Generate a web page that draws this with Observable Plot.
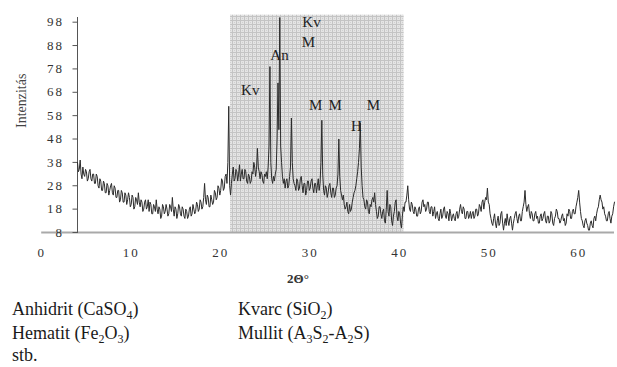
<!DOCTYPE html>
<html>
<head>
<meta charset="utf-8">
<script src="https://cdn.jsdelivr.net/npm/d3@7"></script>
<script src="https://cdn.jsdelivr.net/npm/@observablehq/plot@0.6"></script>
<style>
  html, body { margin: 0; padding: 0; background: #fff; }
  #chart svg { display: block; }
  #chart g[aria-label="y-axis tick label"] text,
  #chart g[aria-label="x-axis tick label"] text { letter-spacing: 2px; }
  #legend { position: relative; width: 617px; height: 71px; font-family: "Liberation Serif", serif; font-size: 18px; color: #1a1a1a; }
  #legend div { position: absolute; line-height: 18px; white-space: nowrap; }
  #legend span.s { font-size: 12px; vertical-align: -4px; line-height: 0; }
</style>
</head>
<body>
<div id="chart"></div>
<div id="legend">
  <div style="left:12px; top:4px;">Anhidrit (CaSO<span class="s">4</span>)</div>
  <div style="left:238px; top:4px;">Kvarc (SiO<span class="s">2</span>)</div>
  <div style="left:12px; top:28px;">Hematit (Fe<span class="s">2</span>O<span class="s">3</span>)</div>
  <div style="left:238px; top:28px;">Mullit (A<span class="s">3</span>S<span class="s">2</span>-A<span class="s">2</span>S)</div>
  <div style="left:12px; top:50px;">stb.</div>
</div>
<script>
// 2Θ sampling grid (degrees)
const twoThetaStart = 4;
const twoThetaStep = 0.1;
// Intensity, one value per 0.1° from 4° to 64°
const intensity = [
  38, 34, 35, 39, 33, 31, 36, 33, 32, 35, 34, 30, 31, 34, 35, 31, 30, 33, 33, 29,
  29, 33, 32, 28, 27, 31, 30, 26, 26, 30, 29, 25, 25, 29, 28, 24, 26, 28, 29, 25,
  24, 28, 27, 23, 23, 26, 26, 21, 22, 26, 25, 21, 21, 25, 24, 20, 22, 25, 23, 19,
  20, 24, 23, 18, 19, 23, 22, 20, 25, 21, 19, 22, 21, 17, 18, 21, 22, 18, 19, 22,
  17, 21, 20, 16, 16, 20, 19, 17, 22, 18, 16, 19, 18, 14, 15, 20, 19, 16, 17, 20,
  18, 15, 16, 20, 19, 17, 23, 18, 15, 19, 18, 14, 16, 20, 19, 16, 15, 19, 18, 15,
  14, 18, 17, 14, 15, 18, 19, 15, 16, 20, 18, 16, 17, 21, 20, 17, 18, 22, 21, 18,
  19, 23, 29, 22, 20, 24, 23, 19, 19, 24, 22, 20, 21, 26, 25, 22, 23, 28, 27, 24,
  26, 31, 30, 26, 27, 32, 33, 29, 38, 62, 28, 24, 29, 33, 36, 30, 31, 35, 34, 30,
  33, 37, 30, 33, 35, 31, 31, 35, 34, 30, 29, 33, 32, 29, 30, 34, 33, 38, 36, 32,
  35, 44, 36, 34, 31, 34, 33, 30, 29, 33, 32, 34, 31, 36, 45, 79, 38, 31, 29, 32,
  30, 33, 35, 48, 72, 52, 100, 45, 38, 32, 29, 31, 27, 30, 31, 27, 28, 32, 36, 57,
  38, 31, 29, 28, 26, 31, 30, 26, 27, 31, 32, 28, 25, 29, 29, 24, 26, 30, 30, 26,
  27, 30, 31, 27, 25, 29, 29, 25, 28, 31, 26, 29, 38, 56, 33, 26, 24, 28, 27, 23,
  25, 28, 29, 25, 23, 27, 27, 23, 24, 27, 28, 33, 48, 32, 26, 24, 22, 24, 20, 18,
  19, 21, 17, 16, 20, 17, 18, 21, 23, 25, 26, 28, 31, 34, 38, 44, 55, 36, 28, 23,
  22, 19, 18, 22, 21, 17, 16, 20, 19, 22, 23, 21, 25, 20, 17, 14, 15, 19, 19, 16,
  14, 17, 18, 13, 12, 18, 26, 17, 15, 20, 19, 13, 11, 15, 17, 21, 22, 15, 13, 17,
  16, 12, 10, 15, 19, 17, 21, 21, 24, 28, 22, 18, 17, 21, 20, 17, 16, 19, 18, 15,
  15, 18, 19, 16, 17, 21, 22, 19, 20, 17, 18, 21, 21, 17, 16, 19, 19, 15, 17, 19,
  14, 16, 17, 14, 13, 16, 18, 14, 15, 18, 19, 15, 14, 17, 16, 13, 18, 16, 13, 15,
  16, 14, 13, 16, 17, 14, 15, 18, 20, 17, 16, 19, 18, 14, 14, 17, 17, 14, 15, 17,
  14, 16, 17, 14, 15, 18, 18, 15, 16, 20, 19, 17, 21, 22, 18, 21, 23, 22, 27, 21,
  20, 16, 14, 12, 11, 14, 16, 12, 10, 13, 15, 11, 12, 16, 17, 12, 9, 12, 14, 11,
  16, 13, 11, 14, 15, 12, 9, 12, 14, 16, 17, 14, 12, 15, 16, 13, 13, 17, 19, 21,
  26, 20, 17, 19, 20, 16, 14, 17, 16, 13, 13, 16, 17, 14, 15, 12, 12, 15, 16, 13,
  14, 16, 17, 13, 12, 15, 15, 12, 13, 17, 16, 12, 11, 14, 15, 18, 17, 14, 14, 12,
  13, 15, 16, 13, 14, 11, 12, 16, 15, 18, 17, 14, 14, 17, 18, 16, 16, 19, 21, 23,
  26, 21, 17, 14, 13, 11, 10, 13, 14, 12, 11, 9, 9, 12, 13, 11, 10, 14, 15, 13,
  16, 18, 19, 22, 24, 22, 21, 18, 19, 16, 15, 13, 13, 16, 17, 14, 12, 15, 16, 19,
  21
];
// Peak labels
const peakLabels = ["Kv", "M", "An", "Kv", "M", "M", "M", "H"];
const peakX = [30.15, 29.8, 26.57, 23.3, 30.6, 32.8, 37.07, 35.17];
const peakY = [98.0, 89.4, 83.7, 68.8, 62.3, 62.3, 62.3, 53.4];
// Axis ticks
const xTicks = [0, 10, 20, 30, 40, 50, 60];
const yTicks = [8, 18, 28, 38, 48, 58, 68, 78, 88, 98];
const xDomain = [4, 64];
const yDomain = [8, 100];
const xAxisSpan = [0, 64];
// Highlighted 2Θ range
const shadeSpan = [21.1, 40.5];
const shadeTop = 101;

const data = intensity.map((v, i) => ({ x: twoThetaStart + i * twoThetaStep, y: v }));
const peaks = peakLabels.map((t, i) => ({ t, x: peakX[i], y: peakY[i] }));

const chart = Plot.plot({
  width: 617,
  height: 296,
  marginLeft: 77,
  marginRight: 3,
  marginTop: 17,
  marginBottom: 64,
  x: { domain: xDomain },
  y: { domain: yDomain },
  style: { fontFamily: "Liberation Serif, serif", fontSize: "13px", color: "#333", background: "white" },
  marks: [
    Plot.rect([shadeSpan], { x1: d => d[0], x2: d => d[1], y1: () => yDomain[0], y2: () => shadeTop, fill: "url(#xrdgrid)" }),
    Plot.ruleY([yDomain[0]], { x1: () => xAxisSpan[0], x2: () => xAxisSpan[1], stroke: "#a9a9a9", strokeWidth: 2 }),
    Plot.frame({ anchor: "left", stroke: "#555" }),
    Plot.axisY(yTicks, { tickSize: 4.5, tickPadding: 9, label: null, stroke: "#555" }),
    Plot.axisX(xTicks, { tickSize: 0, tickPadding: 15, label: null }),
    Plot.line(data, { x: "x", y: "y", stroke: "#2b2b2b", strokeWidth: 1 }),
    Plot.text(peaks, { x: "x", y: "y", text: "t", fontSize: 15, fill: "#222" }),
    Plot.text(["2Θ°"], { frameAnchor: "bottom", dx: -48, dy: 50, fontWeight: "bold", fontSize: 13, fill: "#333" }),
    Plot.text(["Intenzitás"], { frameAnchor: "left", rotate: -90, dx: -56, dy: 3, fontSize: 14, fill: "#444" })
  ]
});

const svg = d3.select(chart.tagName.toLowerCase() === "svg" ? chart : chart.querySelector("svg"));
svg.insert("defs", ":first-child").html(
  '<pattern id="xrdgrid" width="4" height="4" patternUnits="userSpaceOnUse">' +
  '<rect width="4" height="4" fill="#e4e4e4"/>' +
  '<rect width="4" height="1" fill="#c4c4c4"/>' +
  '<rect width="1" height="4" fill="#c4c4c4"/>' +
  '<rect x="2" y="2" width="1" height="1" fill="#d0d0d0"/>' +
  '</pattern>'
);
document.getElementById("chart").appendChild(chart);
</script>
</body>
</html>
